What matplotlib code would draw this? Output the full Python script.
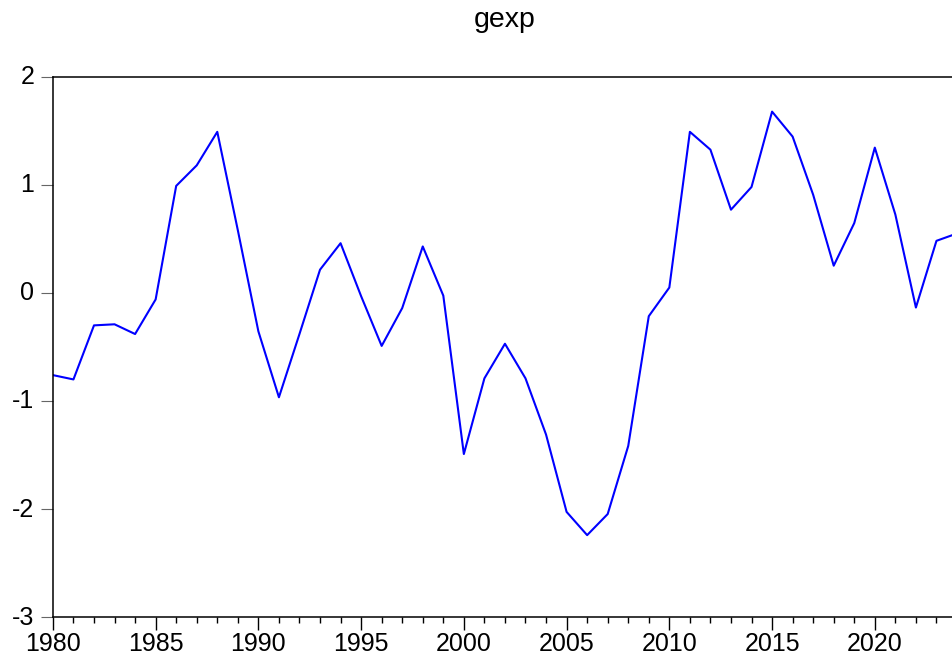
import matplotlib
matplotlib.use("Agg")
import matplotlib.pyplot as plt
import matplotlib.transforms as mtransforms
from matplotlib.ticker import MultipleLocator

plt.rcParams['font.family'] = ['Liberation Sans', 'DejaVu Sans']

years = list(range(1980, 2025))
gexp = [-0.76, -0.80, -0.30, -0.29, -0.38, -0.06, 0.99, 1.18, 1.49, 0.58,
        -0.355, -0.965, -0.38, 0.215, 0.46, -0.03, -0.49, -0.14, 0.43, -0.025,
        -1.49, -0.79, -0.47, -0.79, -1.31, -2.025, -2.24, -2.045, -1.415, -0.215,
        0.05, 1.49, 1.325, 0.77, 0.98, 1.677, 1.446, 0.908, 0.252, 0.646,
        1.344, 0.725, -0.135, 0.482, 0.55]
yticks = [-3, -2, -1, 0, 1, 2]
xticks = [1980, 1985, 1990, 1995, 2000, 2005, 2010, 2015, 2020]

W, H = 953, 664
fig = plt.figure(figsize=(W / 100, H / 100), dpi=100)
left, right = 52.9, 957.0
top, bottom = 76.7, 617.3
ax = fig.add_axes([left / W, (H - bottom) / H, (right - left) / W, (bottom - top) / H])

ax.plot(years, gexp, color='#0000ff', linewidth=1.5)
ax.set_xlim(1980, 2024)
ax.set_ylim(-3, 2)
ax.set_yticks(yticks)
ax.set_yticklabels([str(v) for v in yticks])
ax.set_xticks(xticks)
ax.set_xticklabels([str(v) for v in xticks])
ax.xaxis.set_minor_locator(MultipleLocator(1))

ax.tick_params(axis='x', which='major', direction='out', length=9, width=1.0,
               labelsize=18, pad=1.5, color='black')
ax.tick_params(axis='x', which='minor', direction='out', length=4.3, width=1.0, color='black')
ax.tick_params(axis='y', which='major', direction='out', length=8.6, width=0.8,
               labelsize=18, pad=4.8, color='#666666')

for s in ['left', 'bottom', 'top', 'right']:
    ax.spines[s].set_linewidth(1.1)
    ax.spines[s].set_color('black')

# y tick labels sit slightly above their ticks
offset = mtransforms.ScaledTranslation(0, 1.5 / 72, fig.dpi_scale_trans)
for lbl in ax.get_yticklabels():
    lbl.set_transform(lbl.get_transform() + offset)

ax.set_title('gexp', fontsize=20.5, pad=36)

fig.savefig('out.png', dpi=100)
